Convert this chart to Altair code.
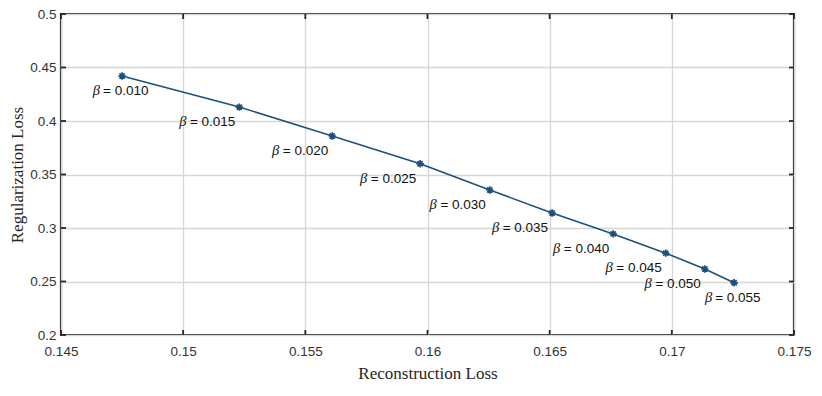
import altair as alt
import pandas as pd

recon = [0.1475, 0.1523, 0.1561, 0.1597, 0.16255, 0.1651, 0.1676, 0.16975, 0.17135, 0.17255]
reg = [0.442, 0.413, 0.386, 0.360, 0.3355, 0.314, 0.2945, 0.2765, 0.2617, 0.2488]
betas = ["0.010", "0.015", "0.020", "0.025", "0.030", "0.035", "0.040", "0.045", "0.050", "0.055"]
x_ticks = [0.145, 0.15, 0.155, 0.16, 0.165, 0.17, 0.175]
y_ticks = [0.2, 0.25, 0.3, 0.35, 0.4, 0.45, 0.5]

df = pd.DataFrame({
    "recon": recon,
    "reg": reg,
    "num": ["= " + b for b in betas],
    "beta": ["β"] * len(betas),
    "idx": list(range(len(betas))),
})
dfx = pd.DataFrame({"t": x_ticks})
dfy = pd.DataFrame({"t": y_ticks})

W, H = 733, 321
COL = "#1d4f7c"
AXC = "#262626"

xs = alt.Scale(domain=[0.145, 0.175], nice=False, zero=False)
ys = alt.Scale(domain=[0.2, 0.5], nice=False, zero=False)

xax = alt.Axis(values=x_ticks, format="~g", title="Reconstruction Loss", grid=True,
               ticks=False, domain=False, labelPadding=9, titlePadding=8, labelFlush=False)
yax = alt.Axis(values=y_ticks, format="~g", title="Regularization Loss", grid=True,
               ticks=False, domain=False, labelPadding=5, titlePadding=3, labelFlush=False)

base = alt.Chart(df)
line = base.mark_line(color=COL, strokeWidth=1.6).encode(
    x=alt.X("recon:Q", scale=xs, axis=xax),
    y=alt.Y("reg:Q", scale=ys, axis=yax),
)
asterisk = "M-1,0L1,0M0,-1L0,1M-0.7,-0.7L0.7,0.7M-0.7,0.7L0.7,-0.7"
pts = base.mark_point(shape=asterisk, size=55, filled=False, color=COL, strokeWidth=1.7, opacity=1).encode(
    x=alt.X("recon:Q", scale=xs), y=alt.Y("reg:Q", scale=ys)
)

mid = base.transform_filter("datum.idx > 0 && datum.idx < 9")
ends = base.transform_filter("datum.idx == 0 || datum.idx == 9")

FS = 13.5
mid_num = mid.mark_text(align="right", baseline="middle", dx=-4, dy=15, fontSize=FS,
                        font="Liberation Sans", color="#111111").encode(
    x=alt.X("recon:Q", scale=xs), y=alt.Y("reg:Q", scale=ys), text="num:N")
mid_beta = mid.mark_text(align="right", baseline="middle", dx=-53, dy=15, fontSize=FS + 1,
                         font="Liberation Serif", fontStyle="italic", color="#111111").encode(
    x=alt.X("recon:Q", scale=xs), y=alt.Y("reg:Q", scale=ys), text="beta:N")
end_num = ends.mark_text(align="left", baseline="middle", dx=-19, dy=15, fontSize=FS,
                         font="Liberation Sans", color="#111111").encode(
    x=alt.X("recon:Q", scale=xs), y=alt.Y("reg:Q", scale=ys), text="num:N")
end_beta = ends.mark_text(align="right", baseline="middle", dx=-22, dy=15, fontSize=FS + 1,
                          font="Liberation Serif", fontStyle="italic", color="#111111").encode(
    x=alt.X("recon:Q", scale=xs), y=alt.Y("reg:Q", scale=ys), text="beta:N")

TL = 5
xt = alt.Chart(dfx)
xt_bot = xt.mark_rule(color=AXC, strokeWidth=1.8).encode(
    x=alt.X("t:Q", scale=xs), y=alt.value(H), y2=alt.value(H - TL))
xt_top = xt.mark_rule(color=AXC, strokeWidth=1.8).encode(
    x=alt.X("t:Q", scale=xs), y=alt.value(0), y2=alt.value(TL))
yt = alt.Chart(dfy)
yt_left = yt.mark_rule(color=AXC, strokeWidth=1.8).encode(
    y=alt.Y("t:Q", scale=ys), x=alt.value(0), x2=alt.value(TL))
yt_right = yt.mark_rule(color=AXC, strokeWidth=1.8).encode(
    y=alt.Y("t:Q", scale=ys), x=alt.value(W), x2=alt.value(W - TL))

chart = alt.layer(
    line, pts, mid_num, mid_beta, end_num, end_beta, xt_bot, xt_top, yt_left, yt_right
).properties(
    width=W, height=H,
    autosize=alt.AutoSizeParams(type="none"),
    padding={"left": 53, "top": 6, "right": 20, "bottom": 53},
).configure_view(
    stroke=AXC, strokeWidth=2.2
).configure_axis(
    gridColor="#d6d6d6", gridWidth=1.3, gridOpacity=1,
    labelFont="Liberation Sans", labelFontSize=13.5, labelColor="#333333",
    titleFont="Liberation Serif", titleFontSize=17, titleColor="#262626", titleFontWeight="normal",
)

chart.save("out.html", embed_options={"renderer": "svg", "actions": False})
